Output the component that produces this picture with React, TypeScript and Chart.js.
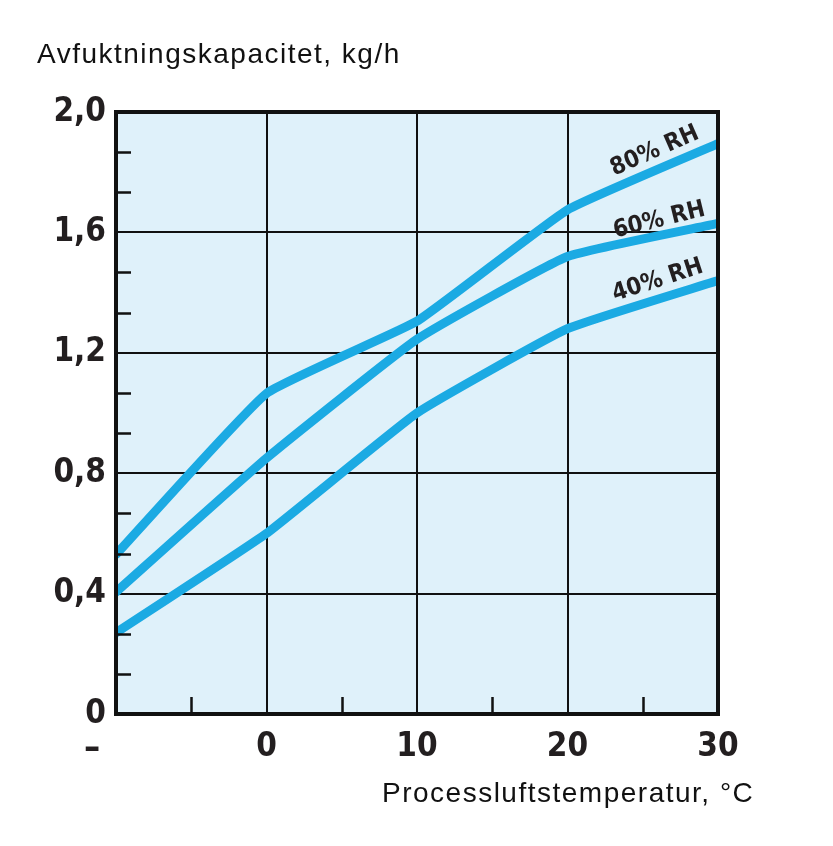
import { useEffect, useRef } from 'react';
import { Chart, registerables } from 'chart.js';

Chart.register(...registerables);

// ---- data ----
const temperatures = [-10, 0, 10, 20, 30];
const rh80 = [0.53, 1.065, 1.305, 1.675, 1.895];
const rh60 = [0.405, 0.85, 1.245, 1.52, 1.63];
const rh40 = [0.27, 0.6, 1.0, 1.28, 1.44];
const seriesNames = ['80% RH', '60% RH', '40% RH'];
const labelAnchorX = [25.8, 26.1, 26.0];
const labelAnchorY = [1.87, 1.64, 1.44];
const labelAngles = [-23.6, -13.7, -18];

const xTickLabels = ['–', '0', '10', '20', '30'];
const yTickLabels = ['0', '0,4', '0,8', '1,2', '1,6', '2,0'];
const yMinorTicks = [0.133, 0.267, 0.533, 0.667, 0.933, 1.067, 1.333, 1.467, 1.733, 1.867];
const xMinorTicks = [-5, 5, 15, 25];

const yTitle = 'Avfuktningskapacitet, kg/h';
const xTitle = 'Processluftstemperatur, °C';

const LINE = 'rgb(27,170,227)';
const BG = 'rgb(223,241,250)';
const INK = '#231f20';
const NARROW = "'Liberation Sans Narrow', 'DejaVu Sans Condensed', 'Arial Narrow', sans-serif";
const SANS = "'Liberation Sans', Arial, Helvetica, sans-serif";

const decor = {
  id: 'decor',
  beforeDraw(chart: any) {
    const { ctx, chartArea: a } = chart;
    ctx.save();
    ctx.fillStyle = BG;
    ctx.fillRect(a.left, a.top, a.right - a.left, a.bottom - a.top);
    ctx.restore();
  },
  afterDatasetsDraw(chart: any) {
    const { ctx, chartArea: a } = chart;
    const xs = chart.scales.x;
    const ys = chart.scales.y;
    ctx.save();
    // minor ticks
    ctx.strokeStyle = '#111';
    ctx.lineWidth = 2.5;
    ctx.beginPath();
    for (const v of yMinorTicks) {
      const y = Math.round(ys.getPixelForValue(v)) + 0.5;
      ctx.moveTo(a.left, y);
      ctx.lineTo(a.left + 15, y);
    }
    for (const v of xMinorTicks) {
      const x = Math.round(xs.getPixelForValue(v)) + 0.5;
      ctx.moveTo(x, a.bottom);
      ctx.lineTo(x, a.bottom - 17);
    }
    ctx.stroke();
    // frame
    ctx.lineWidth = 4;
    ctx.strokeStyle = '#111';
    ctx.strokeRect(a.left, a.top, a.right - a.left, a.bottom - a.top);

    // series labels
    ctx.fillStyle = INK;
    ctx.font = `700 24px ${NARROW}`;
    ctx.textAlign = 'center';
    ctx.textBaseline = 'middle';
    seriesNames.forEach((name, i) => {
      const px = xs.getPixelForValue(labelAnchorX[i]);
      const py = ys.getPixelForValue(labelAnchorY[i]);
      ctx.save();
      ctx.translate(px, py);
      ctx.rotate((labelAngles[i] * Math.PI) / 180);
      ctx.fillText(name, 0, 0);
      ctx.restore();
    });

    // first x tick label (dash), offset left of the axis corner
    ctx.font = `700 36px ${NARROW}`;
    ctx.textAlign = 'center';
    ctx.textBaseline = 'middle';
    ctx.fillText(xTickLabels[0], xs.getPixelForValue(temperatures[0]) - 24, a.bottom + 36);

    // titles
    ctx.font = `400 28px ${SANS}`;
    (ctx as any).letterSpacing = '1.5px';
    ctx.textAlign = 'left';
    ctx.textBaseline = 'alphabetic';
    ctx.fillStyle = '#111';
    ctx.fillText(yTitle, 37, 63);
    ctx.fillText(xTitle, 382, 802);
    ctx.restore();
  },
};

export default function App() {
  const ref = useRef<HTMLCanvasElement | null>(null);

  useEffect(() => {
    document.body.style.margin = '0';
    const canvas = ref.current;
    if (!canvas) return;
    const mk = (vals: number[]) => temperatures.map((t, i) => ({ x: t, y: vals[i] }));
    const chart = new Chart(canvas, {
      type: 'line',
      data: {
        datasets: [rh80, rh60, rh40].map((vals, i) => ({
          label: seriesNames[i],
          data: mk(vals),
          borderColor: LINE,
          borderWidth: 9,
          borderCapStyle: 'round',
          borderJoinStyle: 'round',
          pointRadius: 0,
          tension: 0.12,
          fill: false,
        })),
      },
      options: {
        animation: false,
        responsive: false,
        maintainAspectRatio: false,
        events: [],
        layout: { padding: { top: 112, right: 115, left: 0, bottom: 0 } },
        plugins: { legend: { display: false }, tooltip: { enabled: false }, title: { display: false } },
        scales: {
          x: {
            type: 'linear',
            min: -10,
            max: 30,
            afterFit: (s: any) => { s.height = 132; },
            border: { display: false },
            grid: { color: '#111', lineWidth: 2, drawTicks: false },
            ticks: {
              stepSize: 10,
              padding: 14,
              color: INK,
              font: { family: NARROW, size: 33, weight: 'bold' },
              callback: (_v: any, i: number) => (i === 0 ? '' : xTickLabels[i]),
              maxRotation: 0,
              autoSkip: false,
            },
          },
          y: {
            type: 'linear',
            min: 0,
            max: 2,
            afterFit: (s: any) => { s.width = 116; },
            border: { display: false },
            grid: { color: '#111', lineWidth: 2, drawTicks: false },
            ticks: {
              stepSize: 0.4,
              padding: 10,
              color: INK,
              font: { family: NARROW, size: 33, weight: 'bold' },
              callback: (_v: any, i: number) => yTickLabels[i],
              autoSkip: false,
            },
          },
        },
      } as any,
      plugins: [decor],
    });
    return () => chart.destroy();
  }, []);

  return <canvas ref={ref} width={833} height={846} style={{ display: 'block', width: 833, height: 846 }} />;
}
